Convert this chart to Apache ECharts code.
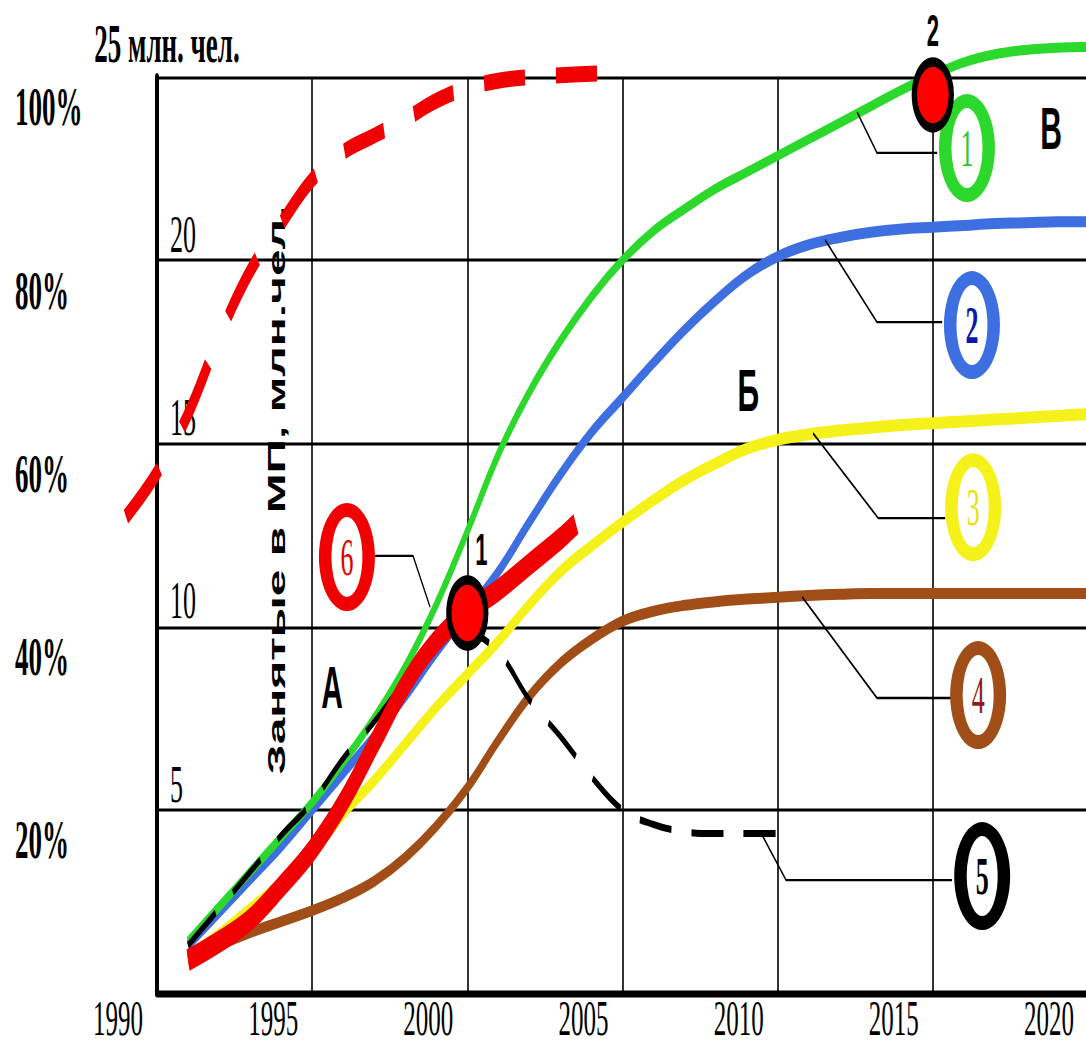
<!DOCTYPE html>
<html>
<head>
<meta charset="utf-8">
<script src="https://cdn.jsdelivr.net/npm/echarts@6/dist/echarts.min.js"></script>
<style>
html,body{margin:0;padding:0;background:#fff;width:1086px;height:1052px;overflow:hidden;}
#main{width:1086px;height:526px;transform:scaleY(2);transform-origin:0 0;}
</style>
</head>
<body>
<div id="main"></div>
<script>
// ---- data (years, values in mln people) ----
const years = [1991,1992,1993,1994,1995,1996,1997,1998,1999,2000,2001,2002,2003,2004,2005,2006,2007,2008,2009,2010,2011,2012,2013,2014,2015,2016,2017,2018,2019,2020];
const curve1 = [1.4,2.35,3.3,4.25,5.2,6.3,7.5,8.9,10.6,12.6,14.7,16.4,17.8,19.0,20.0,20.8,21.4,21.95,22.4,22.85,23.3,23.75,24.2,24.65,25.05,25.4,25.62,25.74,25.8,25.82];
const curve2 = [1.3,2.2,3.1,4.0,5.0,6.0,7.0,8.1,9.3,10.4,11.5,12.85,14.15,15.3,16.25,17.2,18.1,18.9,19.6,20.1,20.42,20.62,20.76,20.85,20.9,20.95,21.0,21.02,21.05,21.05];
const curve3 = [1.0,1.6,2.3,3.0,3.8,4.9,5.8,6.8,7.8,8.7,9.6,10.6,11.5,12.2,12.85,13.45,14.0,14.45,14.85,15.1,15.25,15.35,15.43,15.5,15.55,15.6,15.65,15.7,15.75,15.8];
const curve4 = [0.9,1.3,1.65,1.95,2.25,2.6,3.05,3.7,4.55,5.6,6.9,8.1,9.0,9.65,10.15,10.42,10.58,10.68,10.75,10.8,10.85,10.88,10.9,10.9,10.9,10.9,10.9,10.9,10.9,10.9];
const years5 = [1991,1992,1993,1994,1995,1996,1997,1998,1999,2000,2001,2002,2003,2004,2005,2006,2007,2008,2009,2010];
const curve5 = [1.3,2.3,3.3,4.3,5.2,6.4,7.4,8.5,9.4,9.8,9.3,8.0,7.0,5.9,5.0,4.6,4.4,4.35,4.35,4.35];
const years6 = [1991,1992,1993,1994,1995,1996,1997,1998,1999,2000,2001,2002,2003,2003.5];
const curve6 = [0.9,1.4,2.0,2.9,3.9,5.2,6.8,8.4,9.6,10.4,11.0,11.7,12.4,12.8];
const yearsTop = [1989,1990,1991,1992,1993,1994,1995,1996,1997,1998,1999,2000,2001,2002,2003,2004.3];
const curveTop = [13.0,14.2,15.8,17.9,19.7,21.0,22.2,22.95,23.4,23.85,24.35,24.7,24.9,25.0,25.05,25.1];

// key points
const dotYears = [2000, 2015];
const dotValues = [10.37, 24.51];
const dotLabels = ['1', '2'];

// numbered ellipse markers
const ringYears = [2016.1, 2016.26, 2016.3, 2016.46, 2016.59, 1996.12];
const ringValues = [23.06, 18.23, 13.26, 8.13, 3.19, 11.9];
const ringLabels = ['1', '2', '3', '4', '5', '6'];

// leader lines from curves to ellipses
const leaders = [
  [[2012.56,24.04],[2013.2,22.93],[2015.14,22.93]],
  [[2011.53,20.55],[2013.2,18.31],[2015.3,18.31]],
  [[2011.14,15.28],[2013.24,12.96],[2015.4,12.96]],
  [[2010.79,10.81],[2013.2,8.05],[2015.62,8.05]],
  [[2009.5,4.31],[2010.27,3.08],[2015.62,3.08]],
  [[1997.03,11.93],[1998.25,11.93],[1998.8,10.53]]
];

// zone letters
const zoneYears = [1995.64, 2009.05, 2018.81];
const zoneValues = [8.35, 16.46, 23.61];
const zoneLabels = ['А', 'Б', 'В'];

const percentTicks = [20, 40, 60, 80, 100];
const yTitle = '25 млн. чел.';
const sideTitle = 'Занятые в МП, млн.чел.';

// ---- styles ----
const colors = ['#2cd82c', '#3e6fe0', '#f5f11a', '#a14d17', '#000000', '#f00000'];
const ringTextColors = ['#34c434', '#0a1aa8', '#e8e010', '#8b1c1c', '#000000', '#e00000'];
const ringTextWeights = ['normal', 'bold', 'normal', 'normal', 'bold', 'normal'];
const serif = '"Liberation Serif", "Times New Roman", serif';
const sans = '"Liberation Sans", Arial, sans-serif';

const pairs = (xs, vs) => xs.map((x, i) => [x, vs[i]]);

function lineSeries(name, xs, vs, color, width, type, z, xi, yi) {
  return {
    name, type: 'line', data: pairs(xs, vs), smooth: 0.4,
    xAxisIndex: xi || 0, yAxisIndex: yi || 0,
    showSymbol: false, symbol: 'none', clip: false, z: z,
    lineStyle: { color, width, type: type || 'solid', cap: 'butt', opacity: 1 }
  };
}

const series = [
  lineSeries('3', years, curve3, colors[2], 6, null, 2),
  lineSeries('4', years, curve4, colors[3], 5.5, null, 2),
  lineSeries('2', years, curve2, colors[1], 5.5, null, 3),
  lineSeries('1', years, curve1, colors[0], 5, null, 3),
  lineSeries('5', years5, curve5, colors[4], 3.5, [32, 20], 4),
  lineSeries('6', years6, curve6, colors[5], 11, null, 5),
  // forecast curve that starts left of 1990: drawn on an aligned, wider hidden grid
  lineSeries('top', yearsTop, curveTop, colors[5], 8, [41, 31], 5, 1, 2),
  {
    type: 'lines', coordinateSystem: 'cartesian2d', polyline: true, z: 6,
    lineStyle: { color: '#000', width: 1.2, opacity: 1 },
    data: leaders.map(c => ({ coords: c }))
  },
  {
    type: 'scatter', z: 7, symbol: 'circle', symbolSize: [56, 54], clip: false,
    itemStyle: { opacity: 1 },
    data: ringYears.map((x, i) => ({ value: [x, ringValues[i]], itemStyle: { color: colors[i], opacity: 1 } })),
    label: { show: false }
  },
  {
    type: 'scatter', z: 8, symbol: 'circle', symbolSize: [31, 40], clip: false,
    itemStyle: { color: '#ffffff', opacity: 1 },
    data: ringYears.map((x, i) => ({
      value: [x, ringValues[i]],
      label: { color: ringTextColors[i], fontWeight: ringTextWeights[i] }
    })),
    label: {
      show: true, position: 'inside', fontFamily: serif, fontSize: 26,
      formatter: p => ringLabels[p.dataIndex]
    }
  },
  {
    type: 'scatter', z: 9, symbol: 'circle', symbolSize: [37, 33], clip: false,
    itemStyle: { color: '#ff0000', borderColor: '#000', borderWidth: 5, opacity: 1 },
    data: dotYears.map((x, i) => ({
      value: [x, dotValues[i]],
      label: { offset: [i === 0 ? 14 : 0, 0] }
    })),
    label: {
      show: true, position: 'top', distance: 2, color: '#000',
      fontFamily: sans, fontWeight: 'bold', fontSize: 22,
      formatter: p => dotLabels[p.dataIndex]
    }
  },
  {
    type: 'scatter', z: 9, symbolSize: 0, clip: false,
    itemStyle: { opacity: 1 },
    data: pairs(zoneYears, zoneValues),
    label: {
      show: true, position: 'inside', color: '#000',
      fontFamily: sans, fontWeight: 'bold', fontSize: 30,
      formatter: p => zoneLabels[p.dataIndex]
    }
  }
];

const chart = echarts.init(document.getElementById('main'), null, { renderer: 'svg' });
chart.setOption({
  animation: false,
  backgroundColor: '#ffffff',
  grid: [
    { left: 157, right: -2, top: 38.5, bottom: 29.5, containLabel: false, outerBoundsMode: 'none' },
    { left: 94.94, right: -2, top: 38.5, bottom: 29.5, containLabel: false, outerBoundsMode: 'none' }
  ],
  xAxis: [
    {
      type: 'value', min: 1990, max: 2020, interval: 5, gridIndex: 0,
      axisLine: { show: true, onZero: false, lineStyle: { color: '#000', width: 3.5 } },
      axisTick: { show: false },
      splitLine: { show: true, lineStyle: { color: '#000', width: 1.6 } },
      axisLabel: {
        show: true, color: '#000', fontFamily: serif, fontSize: 25, margin: 0.5,
        padding: [0, 78, 0, 0], showMinLabel: true, showMaxLabel: true,
        formatter: v => String(v)
      }
    },
    {
      type: 'value', min: 1988, max: 2020, gridIndex: 1, show: false,
      axisLine: { show: false }, axisTick: { show: false }, axisLabel: { show: false }, splitLine: { show: false }
    }
  ],
  yAxis: [
    {
      type: 'value', min: 0, max: 25, interval: 5, position: 'left', gridIndex: 0,
      name: yTitle, nameLocation: 'end', nameGap: 3,
      nameTextStyle: { color: '#000', fontFamily: serif, fontWeight: 'bold', fontSize: 27, padding: [0, 0, 0, 20] },
      axisLine: { show: true, lineStyle: { color: '#000', width: 4 } },
      axisTick: { show: false },
      splitLine: { show: true, lineStyle: { color: '#000', width: 1.6 } },
      axisLabel: {
        show: true, inside: true, margin: 13, verticalAlign: 'bottom',
        color: '#000', fontFamily: serif, fontSize: 26,
        formatter: v => (v > 0 && v < 25) ? String(v) : ''
      }
    },
    {
      type: 'value', min: 3.28, max: 103.28, position: 'left', offset: 0, gridIndex: 0,
      axisLine: { show: false }, axisTick: { show: false }, splitLine: { show: false },
      axisLabel: {
        show: true, customValues: percentTicks, align: 'left', margin: 142,
        color: '#000', fontFamily: serif, fontWeight: 'bold', fontSize: 27,
        formatter: '{value}%'
      }
    },
    {
      type: 'value', min: 0, max: 25, gridIndex: 1, show: false,
      axisLine: { show: false }, axisTick: { show: false }, axisLabel: { show: false }, splitLine: { show: false }
    }
  ],
  graphic: [{
    type: 'text', x: 277, y: 245, rotation: Math.PI / 2, z: 1,
    style: {
      text: sideTitle, fill: '#000', font: 'bold 24px ' + sans,
      align: 'center', verticalAlign: 'middle', textAlign: 'center', textVerticalAlign: 'middle'
    }
  }],
  series: series
});
</script>
</body>
</html>
